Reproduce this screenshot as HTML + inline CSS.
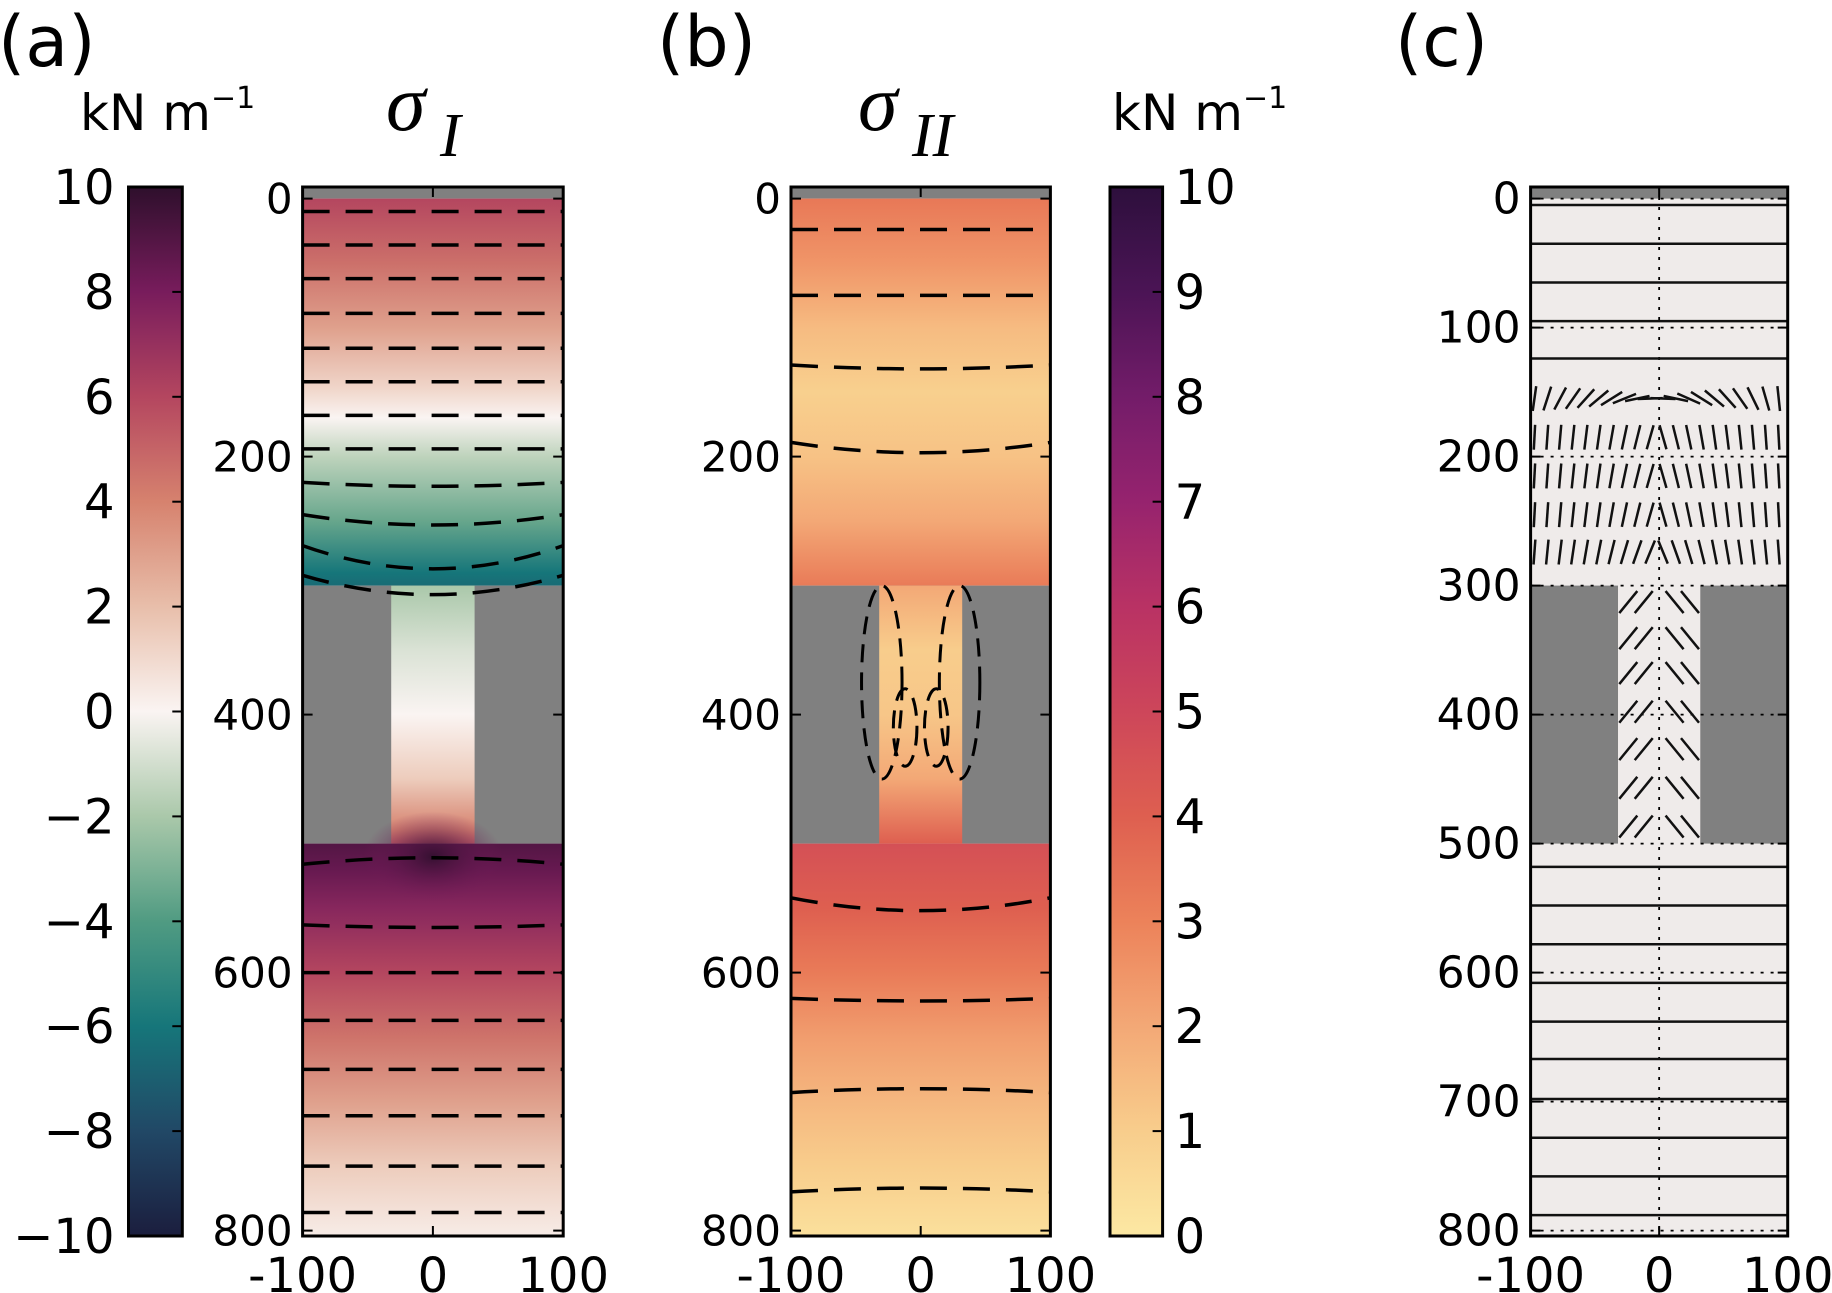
<!DOCTYPE html>
<html><head><meta charset="utf-8"><style>
body{margin:0;background:#fff;}
svg{display:block;font-family:"DejaVu Sans","Liberation Sans",sans-serif;}
</style></head><body>
<svg id="s" width="1832" height="1293" viewBox="0 0 1832 1293" xmlns="http://www.w3.org/2000/svg">
<defs id="defs"></defs>
<g id="root"></g>
</svg>
<script>
// ---- data ----
const aTopLevels=[0,50,100,150,170,200,250,290,300];
const aTopVals=[6,4.6,3,1,0,-1.5,-3.5,-6,-6.5];
const aChLevels=[300,350,400,450,490,500];
const aChVals=[-2,-0.8,0,1.5,4,5];
const aBotLevels=[500,520,550,600,650,700,750,805];
const aBotVals=[9,8.5,7.5,6,4.5,3,1.5,0.3];
const bTopLevels=[0,50,100,150,200,250,300];
const bTopVals=[3.3,2.5,1.5,0.9,1.3,2,3.2];
const bChLevels=[300,350,400,450,500];
const bChVals=[2,1,1.2,2,4];
const bBotLevels=[500,550,600,650,700,750,805];
const bBotVals=[4.6,4,3.2,2.3,1.6,1,0.3];
const aContours=[10,36,62,89,116,142,168,194,220,245,269,292,516,563,600,637,675,711,750,786];
const aSag=[0,0,0,0,0,0,0,0,3,8,18,15,-5,2,0,0,0,0,0,0];
const bContours=[24,75,129,189,542,620,693,770];
const bSag=[0,0,3,8,10,2,-3,-3];
const cLinesTop=[5,35,65,95,124];
const cLinesBot=[518,548,578,608,638,667,698,728,758,788];
const cStickRows=[155,185,215,245,274];
const cStickCols=[-97,-87,-77,-67,-57,-47,-37,-27,-17,-7,3,13,23,33,43,53,63,73,83,93];
const cStickTiltTop=[8,18,28,35,42,50,58,68,78,88,-88,-78,-66,-58,-50,-42,-35,-26,-16,-6];
const cStickTilt=[3,4,5,6,7,8,10,12,14,16,-16,-14,-12,-10,-8,-7,-6,-5,-4,-3];
const cChevRows=[312,340,367,397,426,456,486];
const aCbTicks=[-10,-8,-6,-4,-2,0,2,4,6,8,10];
const bCbTicks=[0,1,2,3,4,5,6,7,8,9,10];
const yTicks=[0,200,400,600,800];
const cYTicks=[0,100,200,300,400,500,600,700,800];
const xTicks=[-100,0,100];

// ---- colormaps ----
const cmapA=[[-10,[27,30,62]],[-8,[33,72,102]],[-6,[22,118,122]],[-4,[80,155,130]],[-2,[170,200,170]],[0,[250,244,242]],[2,[232,190,170]],[4,[214,130,110]],[6,[180,70,95]],[8,[120,28,92]],[10,[46,15,44]]];
const cmapB=[[0,[252,232,163]],[1,[248,205,140]],[2,[243,168,118]],[3,[236,130,90]],[4,[222,95,80]],[5,[205,70,90]],[6,[185,50,100]],[7,[150,35,110]],[8,[115,28,105]],[9,[75,20,85]],[10,[45,15,60]]];
function col(m,v){v=Math.max(m[0][0],Math.min(m[m.length-1][0],v));
 for(let i=0;i<m.length-1;i++){if(v<=m[i+1][0]){const t=(v-m[i][0])/(m[i+1][0]-m[i][0]);
 const c=m[i][1].map((x,k)=>Math.round(x+(m[i+1][1][k]-x)*t));return `rgb(${c})`;}}return `rgb(${m[m.length-1][1]})`;}

const NS="http://www.w3.org/2000/svg";
const root=document.getElementById('root'),defs=document.getElementById('defs');
function el(t,a,p){const e=document.createElementNS(NS,t);for(const k in a)e.setAttribute(k,a[k]);(p||root).appendChild(e);return e;}
const Y=d=>198.6+1.29*d;
const TOP=187,BOT=1236;
function mkX(x0,x1){return d=>x0+(d+100)/200*(x1-x0);}
let gid=0;
function grad(levels,vals,m,y0,y1){const id='g'+(gid++);const g=el('linearGradient',{id:id,x1:0,y1:0,x2:0,y2:1},defs);
 levels.forEach((l,i)=>{el('stop',{offset:((Y(l)-y0)/(y1-y0)),'stop-color':col(m,vals[i])},g);});return `url(#${id})`;}

function panelField(X,m,tl,tv,cl,cv,bl,bv,name){
 const g=el('g',{});  
 el('rect',{x:X(-100),y:TOP,width:X(100)-X(-100),height:Y(0)-TOP,fill:'#808080'},g);
 el('rect',{x:X(-100),y:Y(0),width:X(100)-X(-100),height:Y(300)-Y(0),fill:grad(tl,tv,m,Y(0),Y(300))},g);
 el('rect',{x:X(-100),y:Y(300),width:X(100)-X(-100),height:Y(500)-Y(300),fill:'#808080'},g);
 el('rect',{x:X(-32),y:Y(300),width:X(32)-X(-32),height:Y(500)-Y(300),fill:grad(cl,cv,m,Y(300),Y(500))},g);
 el('rect',{x:X(-100),y:Y(500),width:X(100)-X(-100),height:BOT-Y(500),fill:grad(bl,bv,m,Y(500),BOT)},g);
 return g;}
function contours(X,levels,sag,name){
 const g=el('g',{fill:'none',stroke:'#000','stroke-width':3.5,'stroke-dasharray':'27 16'});
  
 levels.forEach((l,i)=>{const x0=X(-100),x1=X(100),y=Y(l);
  const p=el('path',{d:`M${x0},${y} Q${(x0+x1)/2},${y+2*sag[i]*1.29} ${x1},${y}`},g);
   });
 return g;}
function frame(X,name,labels){
 const g=el('g',{});  
 el('rect',{x:X(-100),y:TOP,width:X(100)-X(-100),height:BOT-TOP,fill:'none',stroke:'#000','stroke-width':3},g);
 (labels||yTicks).forEach(t=>{const y=Y(t);
  el('line',{x1:X(-100),y1:y,x2:X(-100)+10,y2:y,stroke:'#000','stroke-width':2},g);
  el('line',{x1:X(100),y1:y,x2:X(100)-10,y2:y,stroke:'#000','stroke-width':2},g);
  const tx=el('text',{x:X(-100)-10,y:y+15,'text-anchor':'end','font-size':labels?44:42},g);
  tx.textContent=t;
   });
 xTicks.forEach(t=>{const x=X(t);
  el('line',{x1:x,y1:BOT,x2:x,y2:BOT-10,stroke:'#000','stroke-width':2},g);
  el('line',{x1:x,y1:TOP,x2:x,y2:TOP+10,stroke:'#000','stroke-width':2},g);
  const tx=el('text',{x:x,y:1292,'text-anchor':'middle','font-size':48},g);tx.textContent=t;
   });
}
function colorbar(x0,x1,m,ticks,vmin,vmax,labelRight,name){
 const g=el('g',{});  
 const id='cb'+(gid++);const lg=el('linearGradient',{id:id,x1:0,y1:1,x2:0,y2:0},defs);
 for(let i=0;i<=20;i++){const v=vmin+(vmax-vmin)*i/20;el('stop',{offset:i/20,'stop-color':col(m,v)},lg);}
 el('rect',{x:x0,y:TOP,width:x1-x0,height:BOT-TOP,fill:`url(#${id})`,stroke:'#000','stroke-width':3},g);
 ticks.forEach(t=>{const y=BOT-(t-vmin)/(vmax-vmin)*(BOT-TOP);
  el('line',{x1:x1,y1:y,x2:x1-10,y2:y,stroke:'#000','stroke-width':2},g);
  const tx=el('text',{x:labelRight?x1+12:x0-14,y:y+17,'text-anchor':labelRight?'start':'end','font-size':48},g);
  tx.textContent=String(t).replace('-','\u2212');
   });
}
function text(x,y,s,size,name,extra){const t=el('text',Object.assign({x:x,y:y,'font-size':size},extra||{}));t.textContent=s;
  return t;}
function unit(x,y,name){const t=el('text',{x:x,y:y,'font-size':50});
  
 t.appendChild(document.createTextNode('kN m'));
 const ts=el('tspan',{dy:-22,'font-size':30},t);ts.textContent='\u22121';}

// Panel a
const XA=mkX(302.6,563.2);
panelField(XA,cmapA,aTopLevels,aTopVals,aChLevels,aChVals,aBotLevels,aBotVals,'panel-a');
const rg=el('radialGradient',{id:'blobA'},defs);
el('stop',{offset:0,'stop-color':col(cmapA,9.8),'stop-opacity':1},rg);el('stop',{offset:1,'stop-color':col(cmapA,8),'stop-opacity':0},rg);
el('ellipse',{cx:XA(0),cy:Y(510),rx:70,ry:45,fill:'url(#blobA)'});
contours(XA,aContours,aSag,'panel-a');
frame(XA,'panel-a');
colorbar(128.5,182.3,cmapA,aCbTicks,-10,10,false,'colorbar-a');
text(-2,66,'(a)',70,'panel-a-label');
unit(80,130,'colorbar-a-unit');
text(386,130,'\u03C3',80,'panel-a-title',{'font-family':'"Liberation Serif",serif','font-style':'italic'});
text(440,156,'I',62,'panel-a-title-sub',{'font-family':'"Liberation Serif",serif','font-style':'italic'});

// Panel b
const XB=mkX(791,1050.4);
panelField(XB,cmapB,bTopLevels,bTopVals,bChLevels,bChVals,bBotLevels,bBotVals,'panel-b');
contours(XB,bContours,bSag,'panel-b');
const lb=el('g',{fill:'none',stroke:'#000','stroke-width':3,'stroke-dasharray':'18 10'});

[[-30,300,25,150],[30,300,25,150],[-12,380,12,60],[12,380,12,60]].forEach(c=>el('ellipse',{cx:XB(c[0]),cy:Y(c[1]+c[3]/2),rx:c[2]*1.3/2+4,ry:c[3]*1.29/2},lb));
frame(XB,'panel-b');
colorbar(1110,1162.6,cmapB,bCbTicks,0,10,true,'colorbar-b');
text(657,66,'(b)',70,'panel-b-label');
unit(1112,130,'colorbar-b-unit');
text(858,130,'\u03C3',80,'panel-b-title',{'font-family':'"Liberation Serif",serif','font-style':'italic'});
text(912,156,'II',62,'panel-b-title-sub',{'font-family':'"Liberation Serif",serif','font-style':'italic'});

// Panel c
const XC=mkX(1530.6,1787.7);
const gc=el('g',{});
el('rect',{x:XC(-100),y:TOP,width:XC(100)-XC(-100),height:BOT-TOP,fill:'#efebea'},gc);
el('rect',{x:XC(-100),y:TOP,width:XC(100)-XC(-100),height:Y(0)-TOP,fill:'#808080'},gc);
el('rect',{x:XC(-100),y:Y(300),width:XC(-32)-XC(-100),height:Y(500)-Y(300),fill:'#808080'},gc);
el('rect',{x:XC(32),y:Y(300),width:XC(100)-XC(32),height:Y(500)-Y(300),fill:'#808080'},gc);
const gg=el('g',{stroke:'#000','stroke-width':1.8,'stroke-dasharray':'3 7'});

cYTicks.forEach(t=>el('line',{x1:XC(-100),y1:Y(t),x2:XC(100),y2:Y(t)},gg));
el('line',{x1:XC(0),y1:TOP,x2:XC(0),y2:BOT},gg);
const gl=el('g',{stroke:'#111','stroke-width':2.5});

cLinesTop.concat(cLinesBot).forEach(d=>{const l=el('line',{x1:XC(-100),y1:Y(d),x2:XC(100),y2:Y(d)},gl);
 });
cStickRows.forEach((r,ri)=>cStickCols.forEach((c,ci)=>{
 const deg=ri===0?cStickTiltTop[ci]:cStickTilt[ci]*(ri===cStickRows.length-1?1.4:1);
 const a=deg*Math.PI/180,L=12.5,dx=L*Math.sin(a),dy=L*Math.cos(a);
 const l=el('line',{x1:XC(c)+dx,y1:Y(r)-dy,x2:XC(c)-dx,y2:Y(r)+dy},gl);
 }));
cChevRows.forEach(r=>{[-24,-12,12,24].forEach(c=>{const s=Math.sign(c);
 const l=el('line',{x1:XC(c)-s*9,y1:Y(r)-10,x2:XC(c)+s*9,y2:Y(r)+12},gl);
 });});
frame(XC,'panel-c',cYTicks);
text(1395,66,'(c)',70,'panel-c-label');
</script>
</body></html>
